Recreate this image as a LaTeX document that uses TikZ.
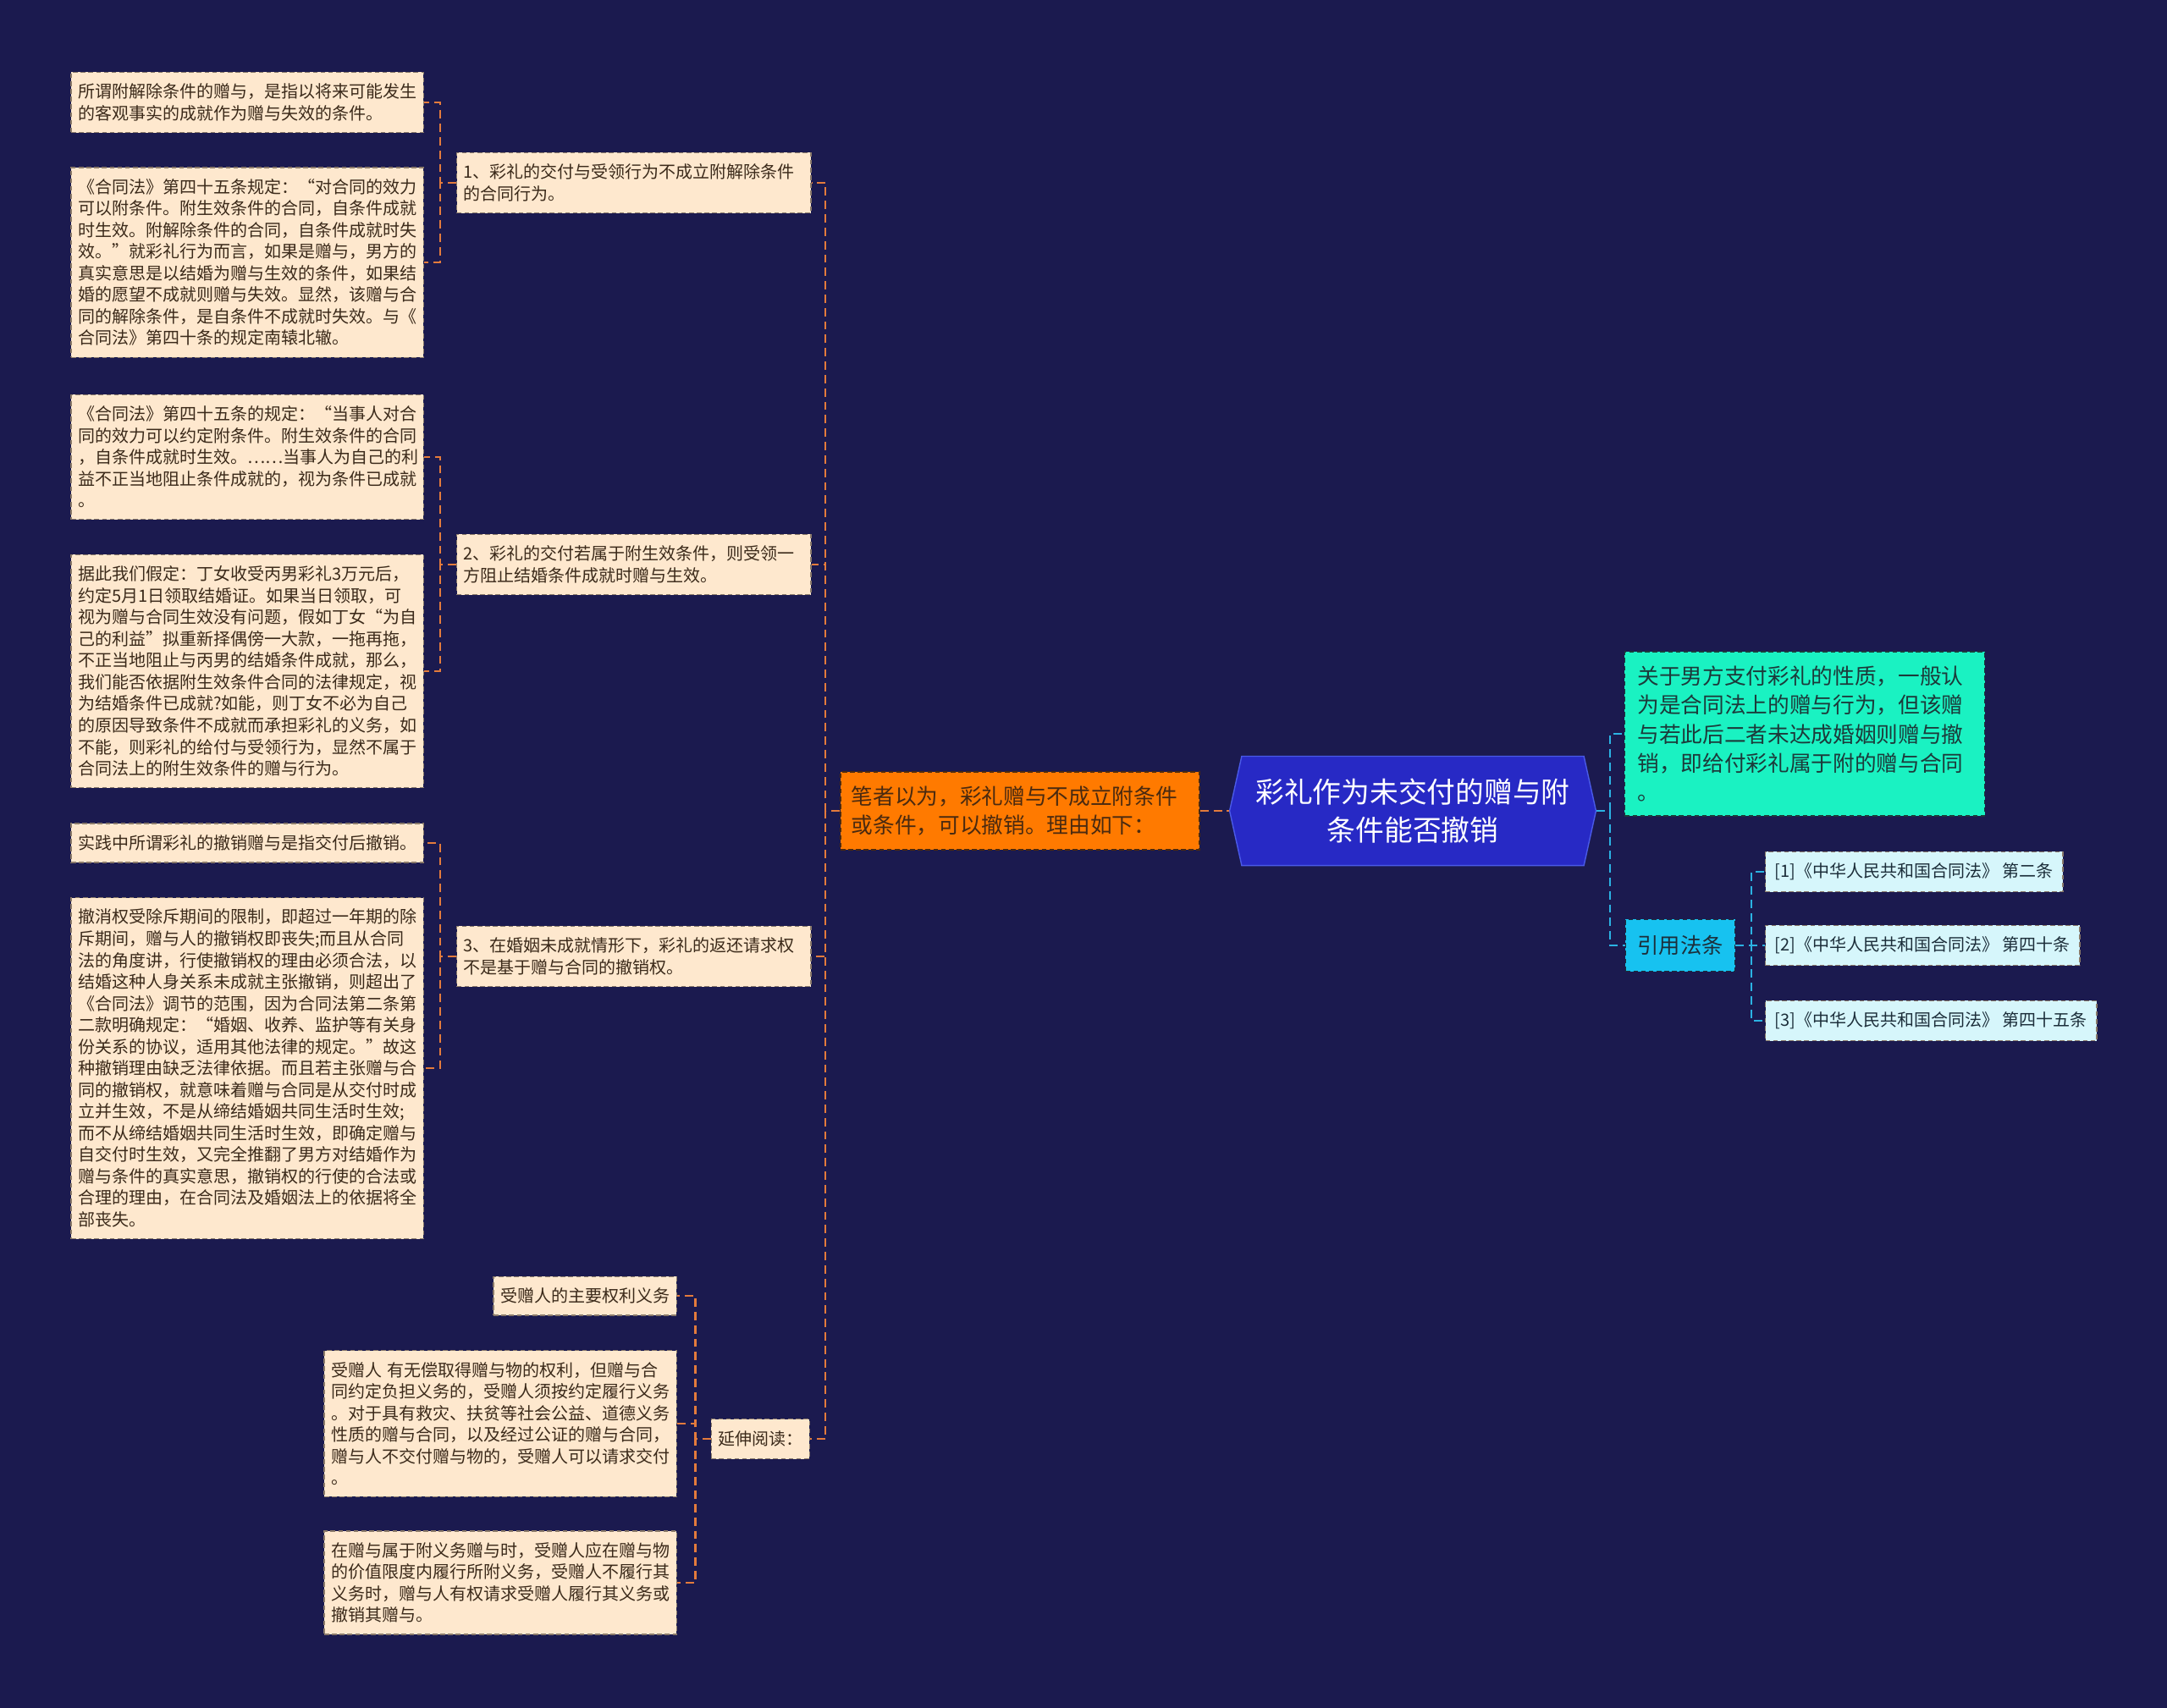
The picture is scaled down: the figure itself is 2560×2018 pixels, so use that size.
\documentclass[tikz,border=0pt]{standalone}
\usepackage{fontspec}
\setmainfont{Noto Sans CJK SC}
\usetikzlibrary{shapes.symbols}

\definecolor{bgnavy}{HTML}{1B1A4F}
\definecolor{peach}{HTML}{FEE8CE}
\definecolor{peachline}{HTML}{8A7A6A}
\definecolor{leaftext}{HTML}{3B2A1A}
\definecolor{orangefill}{HTML}{FF7A00}
\definecolor{orangetext}{HTML}{4A2A10}
\definecolor{rootblue}{HTML}{2729C5}
\definecolor{rootline}{HTML}{4A5AE8}
\definecolor{mintfill}{HTML}{1AF2C2}
\definecolor{minttext}{HTML}{1C3A3A}
\definecolor{skyfill}{HTML}{17C2F0}
\definecolor{reffill}{HTML}{D6F6FB}
\definecolor{reftext}{HTML}{1C2E3A}
\definecolor{lconncol}{HTML}{E47B3C}
\definecolor{rconncol}{HTML}{2BB3E3}

\tikzset{
  leaf/.style={draw=peachline, fill=peach, text=leaftext, dash pattern=on 1.6pt off 1pt,
    line width=0.4pt, font=\fontsize{5.69}{7.26}\selectfont, align=left,
    inner xsep=0.08cm, inner ysep=0.135cm},
  wideleaf/.style={leaf, text width=4cm},
  midleaf/.style={leaf, text width=4.02cm},
  oneline/.style={leaf, minimum height=0.44cm},
  lconn/.style={draw=lconncol, line width=0.6pt, dash pattern=on 2.8pt off 1.7pt},
  rconn/.style={draw=rconncol, line width=0.6pt, dash pattern=on 2.8pt off 1.7pt},
}

\begin{document}
\begin{tikzpicture}[x=0.01cm, y=-0.01cm]

	\fill[bgnavy] (0,0) rectangle (2560,2018);

	\node[signal, signal to=west and east, signal pointer angle=155, fill=rootblue, draw=rootline,
	  text=white, font=\fontsize{9.6}{13}\selectfont, text width=3.8cm, align=center,
	  minimum height=1.29cm, inner xsep=0.12cm] (root) at (1669,958) {彩礼作为未交付的赠与附\\条件能否撤销};

	\node[fill=orangefill, draw=orangetext, dash pattern=on 1.6pt off 1pt, text=orangetext,
	  font=\fontsize{7.3}{9.7}\selectfont, align=left, text width=3.98cm,
	  inner xsep=0.13cm, inner ysep=0.166cm] (view) at (1205,958) {笔者以为，彩礼赠与不成立附条件\\或条件，可以撤销。理由如下：};

	\node[fill=mintfill, draw=minttext, dash pattern=on 1.6pt off 1pt, text=minttext,
	  font=\fontsize{7.3}{9.7}\selectfont, align=left, text width=3.95cm,
	  inner xsep=0.15cm, inner ysep=0.17cm] (nature) at (2132,867) {关于男方支付彩礼的性质，一般认\\为是合同法上的赠与行为，但该赠\\与若此后二者未达成婚姻则赠与撤\\销，即给付彩礼属于附的赠与合同\\。};

	\node[fill=skyfill, draw=reftext, dash pattern=on 1.6pt off 1pt, text=reftext,
	  font=\fontsize{7.2}{9}\selectfont, inner xsep=0.14cm, minimum height=0.61cm] (cite) at (1985,1117) {引用法条};

	\node[leaf, fill=reffill, text=reftext, minimum height=0.45cm, inner xsep=0.11cm, anchor=west] (ref1) at (2085,1030) {[1]《中华人民共和国合同法》 第二条};
	\node[leaf, fill=reffill, text=reftext, minimum height=0.45cm, inner xsep=0.11cm, anchor=west] (ref2) at (2085,1117) {[2]《中华人民共和国合同法》 第四十条};
	\node[leaf, fill=reffill, text=reftext, minimum height=0.45cm, inner xsep=0.11cm, anchor=west] (ref3) at (2085,1206) {[3]《中华人民共和国合同法》 第四十五条};

	\node[midleaf, anchor=west] (pt1) at (539,216) {1、彩礼的交付与受领行为不成立附解除条件\\的合同行为。};
	\node[midleaf, anchor=west] (pt2) at (539,667) {2、彩礼的交付若属于附生效条件，则受领一\\方阻止结婚条件成就时赠与生效。};
	\node[midleaf, anchor=west] (pt3) at (539,1130) {3、在婚姻未成就情形下，彩礼的返还请求权\\不是基于赠与合同的撤销权。};
	\node[oneline, anchor=east, minimum height=0.47cm] (more) at (957,1700) {延伸阅读：};

	\node[wideleaf, anchor=east] (d1) at (501,121) {所谓附解除条件的赠与，是指以将来可能发生\\的客观事实的成就作为赠与失效的条件。};
	\node[wideleaf, anchor=east] (d2) at (501,310) {《合同法》第四十五条规定：“对合同的效力\\可以附条件。附生效条件的合同，自条件成就\\时生效。附解除条件的合同，自条件成就时失\\效。”就彩礼行为而言，如果是赠与，男方的\\真实意思是以结婚为赠与生效的条件，如果结\\婚的愿望不成就则赠与失效。显然，该赠与合\\同的解除条件，是自条件不成就时失效。与《\\合同法》第四十条的规定南辕北辙。};
	\node[wideleaf, anchor=east] (d3) at (501,540) {《合同法》第四十五条的规定：“当事人对合\\同的效力可以约定附条件。附生效条件的合同\\，自条件成就时生效。……当事人为自己的利\\益不正当地阻止条件成就的，视为条件已成就\\。};
	\node[wideleaf, anchor=east] (d4) at (501,793) {据此我们假定：丁女收受丙男彩礼3万元后，\\约定5月1日领取结婚证。如果当日领取，可\\视为赠与合同生效没有问题，假如丁女“为自\\己的利益”拟重新择偶傍一大款，一拖再拖，\\不正当地阻止与丙男的结婚条件成就，那么，\\我们能否依据附生效条件合同的法律规定，视\\为结婚条件已成就?如能，则丁女不必为自己\\的原因导致条件不成就而承担彩礼的义务，如\\不能，则彩礼的给付与受领行为，显然不属于\\合同法上的附生效条件的赠与行为。};
	\node[wideleaf, anchor=east, minimum height=0.42cm] (d5) at (501,996) {实践中所谓彩礼的撤销赠与是指交付后撤销。};
	\node[wideleaf, anchor=east] (d6) at (501,1262) {撤消权受除斥期间的限制，即超过一年期的除\\斥期间，赠与人的撤销权即丧失;而且从合同\\法的角度讲，行使撤销权的理由必须合法，以\\结婚这种人身关系未成就主张撤销，则超出了\\《合同法》调节的范围，因为合同法第二条第\\二款明确规定：“婚姻、收养、监护等有关身\\份关系的协议，适用其他法律的规定。”故这\\种撤销理由缺乏法律依据。而且若主张赠与合\\同的撤销权，就意味着赠与合同是从交付时成\\立并生效，不是从缔结婚姻共同生活时生效;\\而不从缔结婚姻共同生活时生效，即确定赠与\\自交付时生效，又完全推翻了男方对结婚作为\\赠与条件的真实意思，撤销权的行使的合法或\\合理的理由，在合同法及婚姻法上的依据将全\\部丧失。};

	\node[oneline, anchor=east] (m1) at (800,1531) {受赠人的主要权利义务};
	\node[wideleaf, anchor=east] (m2) at (800,1682) {受赠人 有无偿取得赠与物的权利，但赠与合\\同约定负担义务的，受赠人须按约定履行义务\\。对于具有救灾、扶贫等社会公益、道德义务\\性质的赠与合同，以及经过公证的赠与合同，\\赠与人不交付赠与物的，受赠人可以请求交付\\。};
	\node[wideleaf, anchor=east] (m3) at (800,1870) {在赠与属于附义务赠与时，受赠人应在赠与物\\的价值限度内履行所附义务，受赠人不履行其\\义务时，赠与人有权请求受赠人履行其义务或\\撤销其赠与。};

	\draw[lconn] (view.east) -- (root.west);
	\draw[lconn] (view.west) -- ++(-17,0) |- (pt1.east);
	\draw[lconn] (view.west) -- ++(-17,0) |- (pt2.east);
	\draw[lconn] (view.west) -- ++(-17,0) |- (pt3.east);
	\draw[lconn] (view.west) -- ++(-17,0) |- (more.east);
	\draw[lconn] (pt1.west) -- ++(-19,0) |- (d1.east);
	\draw[lconn] (pt1.west) -- ++(-19,0) |- (d2.east);
	\draw[lconn] (pt2.west) -- ++(-19,0) |- (d3.east);
	\draw[lconn] (pt2.west) -- ++(-19,0) |- (d4.east);
	\draw[lconn] (pt3.west) -- ++(-19,0) |- (d5.east);
	\draw[lconn] (pt3.west) -- ++(-19,0) |- (d6.east);
	\draw[lconn] (more.west) -- ++(-18,0) |- (m1.east);
	\draw[lconn] (more.west) -- ++(-18,0) |- (m2.east);
	\draw[lconn] (more.west) -- ++(-18,0) |- (m3.east);

	\draw[rconn] (root.east) -- ++(16,0) |- (nature.west);
	\draw[rconn] (root.east) -- ++(16,0) |- (cite.west);
	\draw[rconn] (cite.east) -- ++(19,0) |- (ref1.west);
	\draw[rconn] (cite.east) -- ++(19,0) |- (ref2.west);
	\draw[rconn] (cite.east) -- ++(19,0) |- (ref3.west);

\end{tikzpicture}
\end{document}
